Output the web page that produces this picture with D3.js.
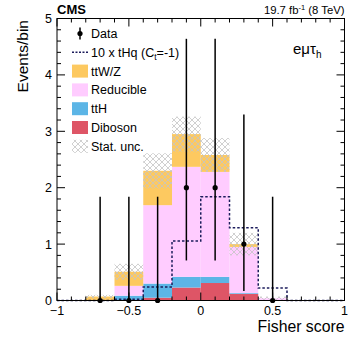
<!DOCTYPE html>
<html>
<head>
<meta charset="utf-8">
<script src="https://cdn.jsdelivr.net/npm/d3@7"></script>
<style>
body { margin: 0; background: white; }
text { font-family: "Liberation Sans", Arial, sans-serif; }
</style>
</head>
<body>
<svg id="chart" width="359" height="346"></svg>
<script>
// bin edges of Fisher score
const binEdges = [-1, -0.8, -0.6, -0.4, -0.2, 0, 0.2, 0.4, 0.6, 0.8, 1]
// stacked backgrounds, bottom to top
const diboson   = [0, 0, 0.01, 0.05, 0.23, 0.31, 0.115, 0.005, 0, 0]
const ttH       = [0, 0, 0.075, 0.25, 0.19, 0.11, 0.015, 0, 0, 0]
const reducible = [0, 0, 0.175, 1.39, 1.95, 1.86, 0.82, 0.035, 0, 0]
const ttWZ      = [0, 0.07, 0.25, 0.61, 0.58, 0.30, 0.05, 0, 0, 0]
const statUnc   = [0, 0.03, 0.14, 0.31, 0.31, 0.30, 0.2, 0.03, 0, 0]
// 10 x tHq (Ct=-1)
const tHq10     = [0, 0, 0.02, 0.24, 1.055, 1.84, 1.29, 0.22, 0, 0]
// data points
const dataX     = [-0.7, -0.5, -0.3, -0.1, 0.1, 0.3, 0.5]
const dataY     = [0, 0, 0, 2, 2, 1, 0]
const dataLo    = [0, 0, 0, 1.29, 1.29, 0.83, 0]
const dataHi    = [1.84, 1.84, 1.84, 2.64, 2.64, 2.30, 1.84]
const xTicks    = [-1, -0.5, 0, 0.5, 1]
const xTickLabels = ["\u22121", "\u22120.5", "0", "0.5", "1"]
const yTicks    = [0, 1, 2, 3, 4, 5]

const colors = {
  diboson: "#de5566",
  ttH: "#5cb5e6",
  reducible: "#ffccff",
  ttWZ: "#fdc960",
  tHq: "#1c1c5c"
}

const svg = d3.select("#chart")
const pLeft = 57, pRight = 344.5, pTop = 18.5, pBottom = 300.5

const x = d3.scaleLinear().domain([-1, 1]).range([pLeft, pRight])
const y = d3.scaleLinear().domain([0, 5]).range([pBottom, pTop])

// hatch pattern for stat. unc.
const pat = svg.append("defs").append("pattern")
    .attr("id", "hatch")
    .attr("patternUnits", "userSpaceOnUse")
    .attr("width", 6)
    .attr("height", 6)
pat.append("path")
    .attr("d", "M0,0 L6,6 M6,0 L0,6 M-1,5 L1,7 M5,-1 L7,1 M-1,1 L1,-1 M5,7 L7,5")
    .attr("stroke", "#c4c4c4")
    .attr("stroke-width", 0.8)

// stacked bars
const layers = [
  {vals: diboson, color: colors.diboson},
  {vals: ttH, color: colors.ttH},
  {vals: reducible, color: colors.reducible},
  {vals: ttWZ, color: colors.ttWZ}
]
const base = binEdges.slice(0, -1).map(() => 0)
layers.forEach(l => {
  for (let i = 0; i < l.vals.length; i++) {
    if (l.vals[i] > 0) {
      svg.append("rect")
        .attr("x", x(binEdges[i]))
        .attr("width", x(binEdges[i + 1]) - x(binEdges[i]))
        .attr("y", y(base[i] + l.vals[i]))
        .attr("height", y(base[i]) - y(base[i] + l.vals[i]))
        .attr("fill", l.color)
    }
    base[i] += l.vals[i]
  }
})

// stat. unc. band
for (let i = 0; i < statUnc.length; i++) {
  if (statUnc[i] > 0) {
    const lo = Math.max(0, base[i] - statUnc[i])
    svg.append("rect")
      .attr("x", x(binEdges[i]))
      .attr("width", x(binEdges[i + 1]) - x(binEdges[i]))
      .attr("y", y(base[i] + statUnc[i]))
      .attr("height", y(lo) - y(base[i] + statUnc[i]))
      .attr("fill", "url(#hatch)")
  }
}

// tHq step line
const stepPts = []
for (let i = 0; i < tHq10.length; i++) {
  stepPts.push([binEdges[i], tHq10[i]])
  stepPts.push([binEdges[i + 1], tHq10[i]])
}
svg.append("path")
    .datum(stepPts)
    .attr("d", d3.line().x(d => x(d[0])).y(d => y(d[1])))
    .attr("fill", "none")
    .attr("stroke", colors.tHq)
    .attr("stroke-width", 1.5)
    .attr("stroke-dasharray", "2.5,2")

// data
dataX.forEach((d, i) => {
  svg.append("line")
    .attr("x1", x(d)).attr("x2", x(d))
    .attr("y1", y(dataY[i] - dataLo[i]))
    .attr("y2", y(dataY[i] + dataHi[i]))
    .attr("stroke", "black")
    .attr("stroke-width", 1.5)
  svg.append("circle")
    .attr("cx", x(d))
    .attr("cy", y(dataY[i]))
    .attr("r", 2.6)
    .attr("fill", "black")
})

// frame
svg.append("rect")
    .attr("x", pLeft).attr("y", pTop)
    .attr("width", pRight - pLeft).attr("height", pBottom - pTop)
    .attr("fill", "none")
    .attr("stroke", "black")
    .attr("stroke-width", 1)

// ticks
const xMinor = d3.range(-10, 11).map(v => v / 10)
xMinor.forEach(v => {
  const major = Math.abs(v * 2 - Math.round(v * 2)) < 1e-9
  const len = major ? 8 : 4
  svg.append("line").attr("x1", x(v)).attr("x2", x(v))
    .attr("y1", pBottom).attr("y2", pBottom - len).attr("stroke", "black")
  svg.append("line").attr("x1", x(v)).attr("x2", x(v))
    .attr("y1", pTop).attr("y2", pTop + len).attr("stroke", "black")
})
const yMinor = d3.range(0, 26).map(v => v / 5)
yMinor.forEach(v => {
  const major = Math.abs(v - Math.round(v)) < 1e-9
  const len = major ? 8 : 4
  svg.append("line").attr("y1", y(v)).attr("y2", y(v))
    .attr("x1", pLeft).attr("x2", pLeft + len).attr("stroke", "black")
  svg.append("line").attr("y1", y(v)).attr("y2", y(v))
    .attr("x1", pRight).attr("x2", pRight - len).attr("stroke", "black")
})

// tick labels
xTicks.forEach((v, i) => {
  svg.append("text")
    .attr("x", x(v)).attr("y", 315)
    .attr("text-anchor", "middle")
    .attr("font-size", 12.5)
    .text(xTickLabels[i])
})
yTicks.forEach(v => {
  svg.append("text")
    .attr("x", 52).attr("y", y(v) + 4.5)
    .attr("text-anchor", "end")
    .attr("font-size", 12.5)
    .text(v)
})

// axis titles
svg.append("text")
    .attr("x", pRight).attr("y", 332)
    .attr("text-anchor", "end")
    .attr("font-size", 15.8)
    .text("Fisher score")
svg.append("text")
    .attr("transform", "translate(28,20) rotate(-90)")
    .attr("text-anchor", "end")
    .attr("font-size", 15.5)
    .text("Events/bin")

// header
svg.append("text")
    .attr("x", 57).attr("y", 14)
    .attr("font-size", 13)
    .attr("font-weight", "bold")
    .text("CMS")
const lumi = svg.append("text")
    .attr("x", pRight).attr("y", 14)
    .attr("text-anchor", "end")
    .attr("font-size", 11.3)
lumi.append("tspan").text("19.7 fb")
lumi.append("tspan").attr("dy", -4).attr("font-size", 7.5).text("-1")
lumi.append("tspan").attr("dy", 4).text(" (8 TeV)")

// channel label
const ch = svg.append("text")
    .attr("x", 293).attr("y", 54)
    .attr("font-size", 15)
ch.append("tspan").text("e\u03bc\u03c4")
ch.append("tspan").attr("dy", 4).attr("font-size", 10).text("h")

// legend
const legRows = [
  {label: "Data", kind: "data"},
  {label: "10 x tHq (C", sub: "t", tail: "=-1)", kind: "line"},
  {label: "ttW/Z", kind: "box", color: colors.ttWZ},
  {label: "Reducible", kind: "box", color: colors.reducible},
  {label: "ttH", kind: "box", color: colors.ttH},
  {label: "Diboson", kind: "box", color: colors.diboson},
  {label: "Stat. unc.", kind: "box", color: "url(#hatch)"}
]
legRows.forEach((r, i) => {
  const cy = 33.5 + i * 18.8
  if (r.kind === "data") {
    svg.append("line").attr("x1", 80).attr("x2", 80)
      .attr("y1", cy - 6).attr("y2", cy + 6)
      .attr("stroke", "black").attr("stroke-width", 1.5)
    svg.append("circle").attr("cx", 80).attr("cy", cy).attr("r", 2.6)
  } else if (r.kind === "line") {
    svg.append("line").attr("x1", 72).attr("x2", 89)
      .attr("y1", cy).attr("y2", cy)
      .attr("stroke", colors.tHq).attr("stroke-width", 1.5)
      .attr("stroke-dasharray", "2,1.5")
  } else {
    svg.append("rect").attr("x", 72).attr("y", cy - 6.5)
      .attr("width", 16).attr("height", 13)
      .attr("fill", r.color)
  }
  const t = svg.append("text")
    .attr("x", 91).attr("y", cy + 4.5)
    .attr("font-size", 12.5)
  t.append("tspan").text(r.label)
  if (r.sub) {
    t.append("tspan").attr("dy", 3).attr("font-size", 8.5).text(r.sub)
    t.append("tspan").attr("dy", -3).text(r.tail)
  }
})
</script>
</body>
</html>
